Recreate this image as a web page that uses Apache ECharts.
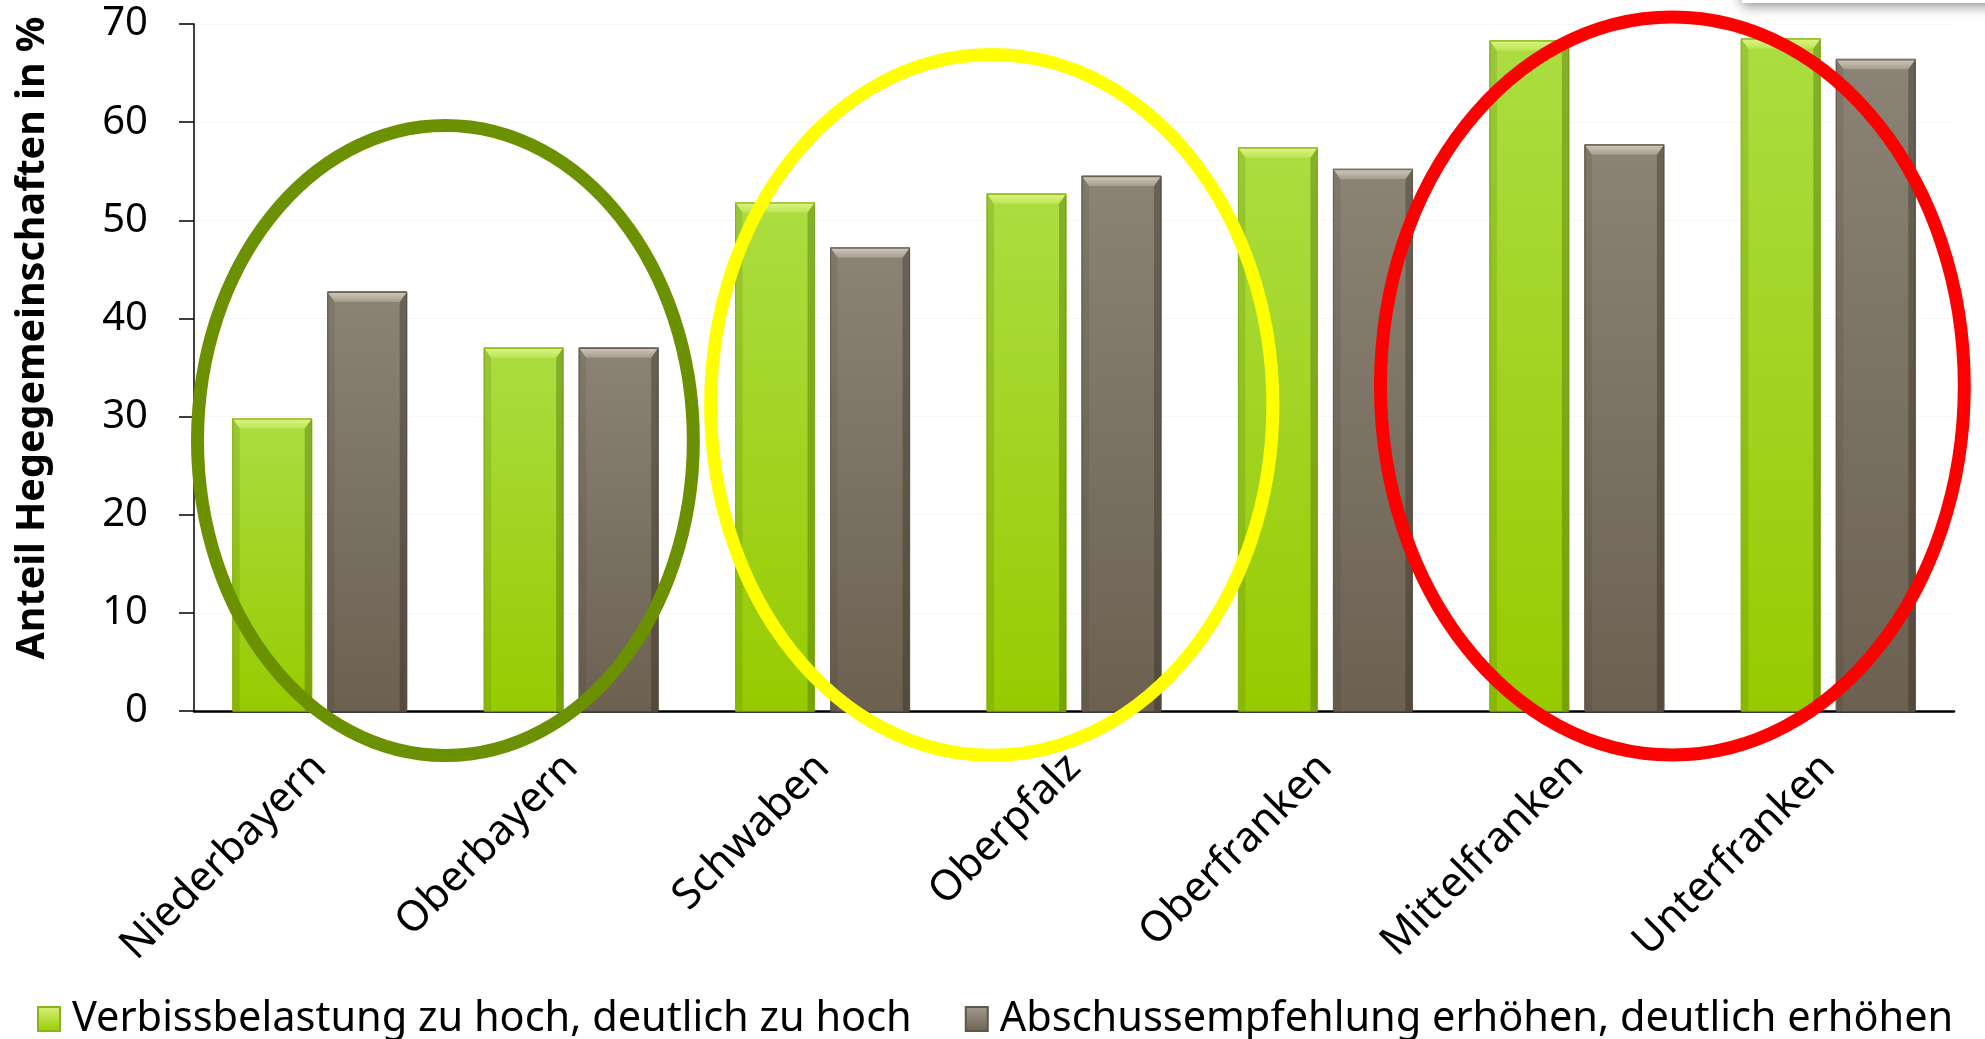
<!DOCTYPE html>
<html>
<head>
<meta charset="utf-8">
<script src="https://cdn.jsdelivr.net/npm/echarts@6/dist/echarts.min.js"></script>
<style>
html,body{margin:0;padding:0;background:#fff;}
#chart{width:1985px;height:1039px;}
</style>
</head>
<body>
<div id="chart"></div>
<script>
const categories = ['Niederbayern','Oberbayern','Schwaben','Oberpfalz','Oberfranken','Mittelfranken','Unterfranken'];
const verbiss = [29.8, 37.0, 51.8, 52.7, 57.4, 68.3, 68.5];
const abschuss = [42.7, 37.0, 47.2, 54.5, 55.2, 57.7, 66.4];
const seriesNames = ['Verbissbelastung zu hoch, deutlich zu hoch', 'Abschussempfehlung erhöhen, deutlich erhöhen'];
const yTitle = 'Anteil Hegegemeinschaften in %';
// annotation ellipses: centre (category index, value), radii (category widths, value units)
const ellCat = [0.5, 2.673, 5.38];
const ellVal = [27.56, 31.18, 33.12];
const ellRx = [0.986, 1.118, 1.161];
const ellRy = [32.1, 35.7, 37.6];
const ellColor = ['#6b9000', '#ffff00', '#ff0000'];

const FONT = '"Noto Sans", "Open Sans", sans-serif';
const chart = echarts.init(document.getElementById('chart'));

const palettes = [
  {top:'#dff58a', top2:'#b9e552', bodyTop:'#abdd42', bodyBot:'#97cb00', side:'rgba(60,90,0,0.16)', sideR:'rgba(50,80,0,0.32)', edge:'#8fbd22'},
  {top:'#d2cabb', top2:'#a39b8d', bodyTop:'#8b8375', bodyBot:'#6c6151', side:'rgba(40,30,20,0.10)', sideR:'rgba(30,22,14,0.30)', edge:'#6a6054'}
];
const legendFill = [
  new echarts.graphic.LinearGradient(0,0,0,1,[{offset:0,color:'#d8f27c'},{offset:1,color:'#97cb00'}]),
  new echarts.graphic.LinearGradient(0,0,0,1,[{offset:0,color:'#a39b8d'},{offset:1,color:'#6c6151'}])
];

function makeRender(si) {
  const pal = palettes[si];
  return function (params, api) {
    const idx = api.value(0);
    const val = api.value(1);
    const band = api.size([1, 0])[0];
    const w = band * 0.3143;
    const gap = band * 0.0636;
    const c = api.coord([idx, val]);
    const base = api.coord([idx, 0]);
    const cx = c[0] + (si === 0 ? -1 : 1) * (w + gap) / 2;
    const x = cx - w / 2;
    const y = c[1];
    const h = base[1] - y;
    const b = Math.min(10, h / 3);
    const s = 7;
    return {
      type: 'group',
      children: [
        {type:'rect', shape:{x:x, y:y, width:w, height:h},
          style:{fill:new echarts.graphic.LinearGradient(0,0,0,1,[{offset:0,color:pal.bodyTop},{offset:1,color:pal.bodyBot}]), stroke:pal.edge, lineWidth:1}},
        {type:'polygon', shape:{points:[[x,y],[x+s,y+b],[x+s,base[1]],[x,base[1]]]}, style:{fill:pal.side}},
        {type:'polygon', shape:{points:[[x+w,y],[x+w-s,y+b],[x+w-s,base[1]],[x+w,base[1]]]}, style:{fill:pal.sideR}},
        {type:'polygon', shape:{points:[[x,y],[x+w,y],[x+w-s,y+b],[x+s,y+b]]},
          style:{fill:new echarts.graphic.LinearGradient(0,0,0,1,[{offset:0,color:pal.top},{offset:1,color:pal.top2}])}},
        {type:'line', shape:{x1:x, y1:y+0.5, x2:x+w, y2:y+0.5}, style:{stroke:pal.edge, lineWidth:1.2}}
      ]
    };
  };
}

const option = {
  animation: false,
  backgroundColor: '#ffffff',
  grid: {left: 194, right: 31, top: 24, bottom: 328, containLabel: false},
  legend: {
    left: 32, top: 993,
    itemWidth: 22, itemHeight: 24, itemGap: 53,
    icon: 'rect',
    textStyle: {fontSize: 41.5, fontFamily: FONT, color: '#000', padding: [0,0,0,7]},
    data: seriesNames
  },
  xAxis: {
    type: 'category',
    data: categories,
    axisLine: {lineStyle: {color: '#000', width: 2.5}},
    axisTick: {show: false},
    axisLabel: {rotate: 45, interval: 0, margin: 50, fontSize: 42, fontFamily: FONT, color: '#000'}
  },
  yAxis: {
    type: 'value',
    min: 0, max: 70, interval: 10,
    axisLine: {show: true, lineStyle: {color: '#000', width: 1.5}},
    axisTick: {show: true, length: 15, lineStyle: {color: '#000', width: 1.5}},
    axisLabel: {margin: 46, fontSize: 40, fontFamily: FONT, color: '#000'},
    splitLine: {show: true, lineStyle: {color: '#f7f7f7', width: 1}}
  },
  series: [
    {
      name: seriesNames[0], type: 'custom', renderItem: makeRender(0),
      data: verbiss.map((v, i) => [i, v]),
      encode: {x: 0, y: 1},
      itemStyle: {color: legendFill[0], borderColor: '#86b41a', borderWidth: 1}
    },
    {
      name: seriesNames[1], type: 'custom', renderItem: makeRender(1),
      data: abschuss.map((v, i) => [i, v]),
      encode: {x: 0, y: 1},
      itemStyle: {color: legendFill[1], borderColor: '#5f564a', borderWidth: 1}
    }
  ]
};
chart.setOption(option);

function buildGraphics() {
  const p0 = chart.convertToPixel({xAxisIndex: 0}, 0);
  const p1 = chart.convertToPixel({xAxisIndex: 0}, 1);
  const bw = p1 - p0;
  const y0 = chart.convertToPixel({yAxisIndex: 0}, 0);
  const y10 = chart.convertToPixel({yAxisIndex: 0}, 10);
  const vu = (y0 - y10) / 10;
  const els = [];
  els.push({
    type: 'rect', shape: {x: 1742, y: -40, width: 320, height: 43},
    style: {fill: '#ffffff', shadowBlur: 12, shadowColor: 'rgba(0,0,0,0.45)', shadowOffsetY: 3},
    z: 1, silent: true
  });
  for (let i = 0; i < ellCat.length; i++) {
    els.push({
      type: 'ellipse',
      shape: {
        cx: p0 + ellCat[i] * bw,
        cy: chart.convertToPixel({yAxisIndex: 0}, ellVal[i]),
        rx: ellRx[i] * bw,
        ry: ellRy[i] * vu
      },
      style: {fill: 'none', stroke: ellColor[i], lineWidth: 13},
      z: 100, silent: true
    });
  }
  els.push({
    type: 'text', x: 33, y: 338, rotation: Math.PI / 2,
    style: {text: yTitle, fontSize: 39.5, fontWeight: 'bold', fontFamily: FONT, fill: '#000', align: 'center', verticalAlign: 'middle'},
    z: 100
  });
  chart.setOption({graphic: {elements: els}});
}
buildGraphics();
</script>
</body>
</html>
